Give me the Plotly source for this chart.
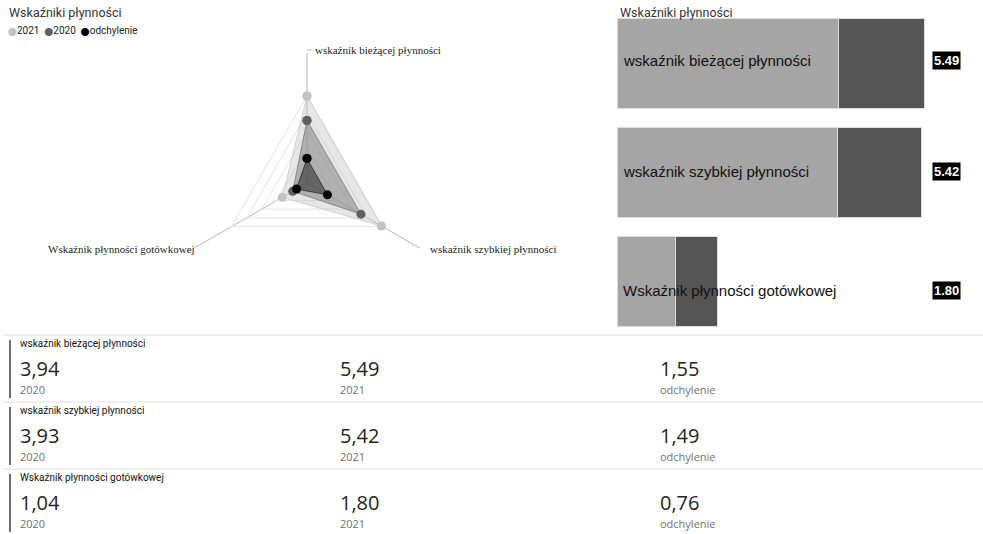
import plotly.graph_objects as go

# ---------------- data ----------------
categories = ["wskaźnik bieżącej płynności", "wskaźnik szybkiej płynności", "Wskaźnik płynności gotówkowej"]
values_2020 = [3.94, 3.93, 1.04]
values_2021 = [5.49, 5.42, 1.80]
deviation = [1.55, 1.49, 0.76]
series_names = ["2021", "2020", "odchylenie"]
radar_ticks = [1.1, 2.2, 3.3, 4.4, 5.5]
title_text = "Wskaźniki płynności"

W, H = 983, 534
def py(p):
    return 1 - p / H
def px(p):
    return p / W

fig = go.Figure()

# ---------------- radar ----------------
radar_styles = [
    dict(fill="rgba(200,200,200,0.45)", line="rgba(205,205,205,0.9)", marker="#c2c2c2"),
    dict(fill="rgba(110,110,110,0.45)", line="rgba(120,120,120,0.8)", marker="#5f5f5f"),
    dict(fill="rgba(40,40,40,0.55)", line="rgba(40,40,40,0.8)", marker="#000000"),
]
for name, vals, st in zip(series_names, [values_2021, values_2020, deviation], radar_styles):
    fig.add_trace(go.Scatterpolar(
        r=vals + [vals[0]], theta=categories + [categories[0]],
        mode="lines+markers", fill="toself", fillcolor=st["fill"],
        line=dict(color=st["line"], width=1),
        marker=dict(color=st["marker"], size=9),
        name=name, showlegend=False, subplot="polar"))

cx, cy, R = 307, 183, 130
fig.update_layout(polar=dict(
    domain=dict(x=[px(cx - R), px(cx + R)], y=[py(cy + R), py(cy - R)]),
    bgcolor="white", gridshape="linear",
    radialaxis=dict(range=[0, 8.2], tickvals=radar_ticks, showticklabels=False,
                    showline=False, ticks="", gridcolor="#e4e4e4", gridwidth=1),
    angularaxis=dict(rotation=90, direction="clockwise", showline=False,
                     showticklabels=False, ticks="", gridcolor="#b8b8b8", gridwidth=1),
))

radar_label_pos = [(313, 50, "left"), (428, 249, "left"), (197, 249, "right")]
for cat, (x, y, anc) in zip(categories, radar_label_pos):
    fig.add_annotation(text=cat, x=px(x), y=py(y), xref="paper", yref="paper",
                       xanchor=anc, yanchor="middle", showarrow=False,
                       font=dict(family="Liberation Serif", size=11, color="#222"))
# small hook to top label
fig.add_shape(type="line", xref="paper", yref="paper", x0=px(307), x1=px(312),
              y0=py(50), y1=py(50), line=dict(color="#b8b8b8", width=1))

# titles + legend
fig.add_annotation(text=title_text, x=px(7), y=py(13), xref="paper", yref="paper",
                   xanchor="left", yanchor="middle", showarrow=False,
                   font=dict(family="Roboto", size=12.5, color="#333"))
legend_cols = ["#c2c2c2", "#5f5f5f", "#000000"]
legend_txt = "  ".join(
    f'<span style="color:{c};font-family:DejaVu Sans;font-size:8px">⬤</span>{n}'
    for c, n in zip(legend_cols, series_names))
fig.add_annotation(text=legend_txt, x=px(6), y=py(30), xref="paper", yref="paper",
                   xanchor="left", yanchor="middle", showarrow=False,
                   font=dict(family="Roboto", size=10, color="#222"))

# ---------------- bar chart ----------------
fig.add_trace(go.Bar(y=categories, x=values_2020, orientation="h", name="2020",
                     marker=dict(color="#a5a5a5", line=dict(color="#dcdcdc", width=1)),
                     showlegend=False, xaxis="x", yaxis="y", hoverinfo="x+y"))
fig.add_trace(go.Bar(y=categories, x=deviation, orientation="h", name="odchylenie",
                     marker=dict(color="#555555", line=dict(color="#dcdcdc", width=1)),
                     showlegend=False, xaxis="x", yaxis="y", hoverinfo="x+y"))
x0px = 617
scale = 56.1
fig.update_layout(
    barmode="stack", bargap=0.17,
    xaxis=dict(domain=[px(x0px), 1.0], range=[0, (W - x0px) / scale], visible=False, fixedrange=True),
    yaxis=dict(domain=[py(336), py(9)], autorange="reversed", visible=False, fixedrange=True),
)
label_shift = [3, 1, -9]
for cat, v, ys in zip(categories, values_2021, label_shift):
    fig.add_annotation(text=cat, x=0, y=cat, xref="x", yref="y", xanchor="left",
                       xshift=4, yshift=ys, yanchor="middle", showarrow=False,
                       font=dict(family="Liberation Sans", size=15, color="#111"))
    fig.add_annotation(text=f"<b>{v:.2f}</b>", x=px(961), y=cat, xref="paper", yref="y",
                       xanchor="right", yanchor="middle", yshift=ys, showarrow=False,
                       bgcolor="#000", borderpad=1,
                       font=dict(family="Liberation Sans", size=13, color="#fff"))
fig.add_annotation(text=title_text, x=px(618), y=py(12), xref="paper", yref="paper",
                   xanchor="left", yanchor="middle", showarrow=False,
                   font=dict(family="Roboto", size=12.5, color="#333"))

# ---------------- table cards ----------------
col_x = [18, 338, 658]
col_labels = ["2020", "2021", "odchylenie"]
def fmt(v):
    return f"{v:.2f}".replace(".", ",")
for i, cat in enumerate(categories):
    top = 335 + 67 * i
    fig.add_shape(type="line", xref="paper", yref="paper", x0=px(3), x1=1,
                  y0=py(top), y1=py(top), line=dict(color="#f0f0f0", width=2))
    fig.add_shape(type="line", xref="paper", yref="paper", x0=px(10), x1=px(10),
                  y0=py(top + 5), y1=py(min(top + 63, H)), line=dict(color="#6e6e6e", width=2))
    fig.add_annotation(text=cat, x=px(18), y=py(top + 8), xref="paper", yref="paper",
                       xanchor="left", yanchor="middle", showarrow=False,
                       font=dict(family="Roboto", size=10, color="#111"))
    for cx_, val, lab in zip(col_x, [values_2020[i], values_2021[i], deviation[i]], col_labels):
        fig.add_annotation(text=fmt(val), x=px(cx_), y=py(top + 33), xref="paper", yref="paper",
                           xanchor="left", yanchor="middle", showarrow=False,
                           font=dict(family="Open Sans", size=20, color="#252423"))
        fig.add_annotation(text=lab, x=px(cx_), y=py(top + 54), xref="paper", yref="paper",
                           xanchor="left", yanchor="middle", showarrow=False,
                           font=dict(family="Open Sans", size=11, color="#707070"))

fig.update_layout(width=W, height=H, margin=dict(l=0, r=0, t=0, b=0),
                  paper_bgcolor="white", plot_bgcolor="white", showlegend=False)

fig.write_html("out.html")
